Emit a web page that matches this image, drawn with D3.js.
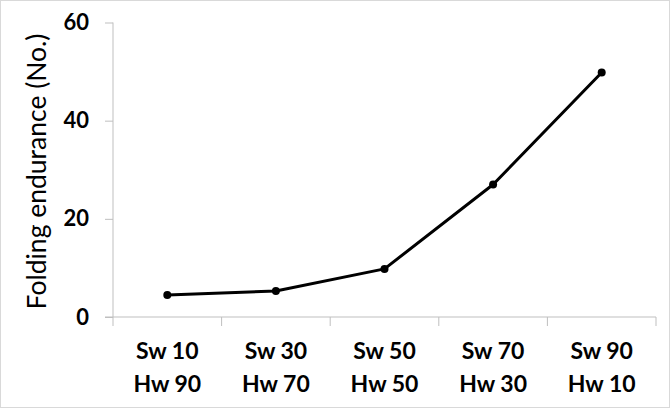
<!DOCTYPE html>
<html><head><meta charset="utf-8">
<script src="https://cdn.jsdelivr.net/npm/d3@7"></script>
<style>body{margin:0;background:#fff}</style>
</head><body>
<svg id="c" width="670" height="409"></svg>
<script>
const categoriesTop = ["Sw 10","Sw 30","Sw 50","Sw 70","Sw 90"];
const categoriesBottom = ["Hw 90","Hw 70","Hw 50","Hw 30","Hw 10"];
const values = [4.5, 5.3, 9.8, 27.0, 49.8];
const yTicks = [0, 20, 40, 60];
const yTitle = "Folding endurance (No.)";

const svg = d3.select("#c");
const font = "Lato, 'Open Sans', sans-serif";
svg.append("rect").attr("x",0.5).attr("y",0.5).attr("width",669).attr("height",407)
  .attr("fill","#fff").attr("stroke","#d9d9d9");

const x = d3.scaleBand().domain(d3.range(values.length)).range([113,656]).padding(0);
const y = d3.scaleLinear().domain([0,60]).range([317,22.5]);

// y axis
const ya = svg.append("g").attr("transform","translate(113,0)")
  .call(d3.axisLeft(y).tickValues(yTicks).tickSize(8).tickPadding(16));
ya.select(".domain").attr("stroke","#bfbfbf").attr("d","M0,22.5V317");
ya.selectAll(".tick line").attr("stroke","#bfbfbf");
ya.selectAll(".tick text").attr("font-family",font).attr("font-weight","bold")
  .attr("font-size",22).attr("fill","#000");

// x axis
const xa = svg.append("g").attr("transform","translate(0,317)");
xa.append("line").attr("x1",105).attr("x2",656).attr("stroke","#bfbfbf");
const edges = d3.range(values.length+1).map(i => i < values.length ? x(i) : x(values.length-1)+x.bandwidth());
xa.selectAll("line.t").data(edges).join("line").attr("class","t")
  .attr("x1",d=>d).attr("x2",d=>d).attr("y1",0).attr("y2",9).attr("stroke","#bfbfbf");
xa.selectAll("text.a").data(categoriesTop).join("text").attr("class","a")
  .attr("x",(d,i)=>x(i)+x.bandwidth()/2).attr("y",42).attr("text-anchor","middle")
  .attr("font-family",font).attr("font-weight","bold").attr("font-size",23).text(d=>d);
xa.selectAll("text.b").data(categoriesBottom).join("text").attr("class","b")
  .attr("x",(d,i)=>x(i)+x.bandwidth()/2).attr("y",75).attr("text-anchor","middle")
  .attr("font-family",font).attr("font-weight","bold").attr("font-size",23).text(d=>d);

// title
svg.append("text").attr("transform","translate(46,171.5) rotate(-90)").attr("text-anchor","middle")
  .attr("font-family",font).attr("font-size",26.5).attr("fill","#000").text(yTitle);

// line
const line = d3.line().x((d,i)=>x(i)+x.bandwidth()/2).y(d=>y(d));
svg.append("path").datum(values).attr("d",line).attr("fill","none")
  .attr("stroke","#000").attr("stroke-width",3).attr("stroke-linejoin","round");
svg.selectAll("circle").data(values).join("circle")
  .attr("cx",(d,i)=>x(i)+x.bandwidth()/2).attr("cy",d=>y(d)).attr("r",4).attr("fill","#000");
</script>
</body></html>
